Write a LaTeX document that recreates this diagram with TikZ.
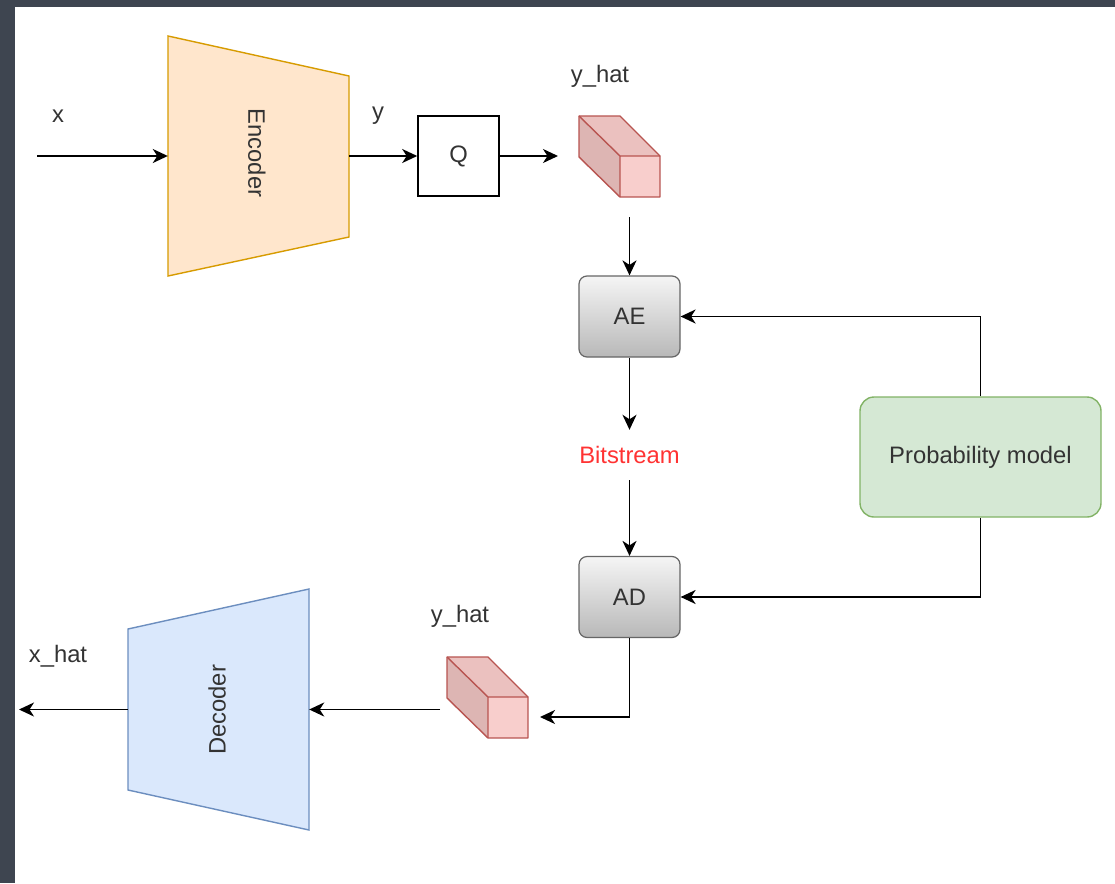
\documentclass[tikz,border=0pt]{standalone}
\usepackage{fontspec}
\setmainfont{Liberation Sans}
\usetikzlibrary{arrows.meta,calc}
\definecolor{bordc}{HTML}{3E4550}
\definecolor{txt}{HTML}{333333}
\definecolor{encfill}{HTML}{FFE6CC}
\definecolor{encdraw}{HTML}{D79B00}
\definecolor{decfill}{HTML}{DAE8FC}
\definecolor{decdraw}{HTML}{6C8EBF}
\definecolor{pmfill}{HTML}{D5E8D4}
\definecolor{pmdraw}{HTML}{82B366}
\definecolor{cubefront}{HTML}{F8CECC}
\definecolor{cubetop}{HTML}{EBC1BF}
\definecolor{cubeside}{HTML}{DDB5B3}
\definecolor{cubedraw}{HTML}{B85450}
\definecolor{boxtop}{HTML}{F5F5F5}
\definecolor{boxbot}{HTML}{B8B8B8}
\definecolor{boxdraw}{HTML}{666666}
\definecolor{bitred}{HTML}{FF3333}
\tikzset{
  every node/.style={text=txt,font=\fontsize{23.8pt}{28pt}\selectfont},
  arr/.style={line width=1.8pt,-{Stealth[length=15pt,width=14pt,inset=4.5pt]}},
  holder/.style={inner sep=0pt,draw=none},
  gradbox/.style={draw=boxdraw,line width=1.2pt,rounded corners=8pt,top color=boxtop,bottom color=boxbot,minimum width=101pt,minimum height=81pt,inner sep=0pt},
  qbox/.style={draw=black,line width=1.6pt,fill=white,minimum width=81pt,minimum height=80pt,inner sep=0pt},
  pmbox/.style={draw=pmdraw,line width=1.4pt,fill=pmfill,rounded corners=14pt,minimum width=241pt,minimum height=120pt,inner sep=0pt},
  lbl/.style={inner sep=0pt},
  pics/ycube/.style={code={
    \fill[cubetop] (0,0) -- (41,0) -- (81,40) -- (41,40) -- cycle;
    \fill[cubeside] (0,0) -- (41,40) -- (41,81) -- (0,41) -- cycle;
    \fill[cubefront] (41,40) rectangle (81,81);
    \draw[cubedraw,line width=1.4pt,line join=round] (0,0) -- (41,0) -- (81,40) -- (81,81) -- (41,81) -- (0,41) -- cycle;
    \draw[cubedraw,line width=1.4pt,line join=round] (0,0) -- (41,40) -- (81,40) (41,40) -- (41,81);
  }}
}
\begin{document}
\begin{tikzpicture}[x=1pt,y=-1pt]
\fill[bordc] (0,0) rectangle (1115,883);
\fill[white] (15,7) rectangle (1115,883);
\useasboundingbox (0,0) rectangle (1115,883);

% Encoder
\draw[draw=encdraw,fill=encfill,line width=1.4pt] (168,36) -- (349,76) -- (349,237) -- (168,276) -- cycle;
\node[holder,minimum width=181pt,minimum height=240pt] (enc) at (258.5,156) {};
\node[rotate=-90] (enctxt) at (257,153) {Encoder};

% Decoder
\draw[draw=decdraw,fill=decfill,line width=1.4pt] (128,629) -- (309,589) -- (309,830) -- (128,790) -- cycle;
\node[holder,minimum width=181pt,minimum height=241pt] (dec) at (218.5,709.5) {};
\node[rotate=90] (dectxt) at (217,710) {Decoder};

% Q
\node[qbox] (q) at (458.5,156) {Q};

% cubes
\pic at (579,116) {ycube};
\node[holder,minimum width=81pt,minimum height=81pt] (cube1) at (619.5,156.5) {};
\pic at (447,657) {ycube};
\node[holder,minimum width=81pt,minimum height=81pt] (cube2) at (487.5,697.5) {};

% AE, AD
\node[gradbox] (ae) at (629.5,316.5) {AE};
\node[gradbox] (ad) at (629.5,597) {AD};

% Bitstream
\node[holder,minimum height=50pt,text=bitred] (bits) at (629.5,455) {Bitstream};

% Probability model
\node[pmbox] (pm) at (980.5,457) {Probability model};

% labels
\node[lbl] (lx) at (58,116) {x};
\node[lbl] (ly) at (378,116) {y};
\node[lbl] (lyh1) at (600,76) {y\_hat};
\node[lbl] (lyh2) at (460,616) {y\_hat};
\node[lbl] (lxh) at (58,656) {x\_hat};

% free ends
\coordinate (xin) at (37,156);
\coordinate (c1in) at (558,156);
\coordinate (c1out) at (629.5,217);
\coordinate (c2in) at (540,717);
\coordinate (c2out) at (440,709.5);
\coordinate (xout) at (19,709.5);

% connectors
\draw[arr] (xin) -- (enc.west);
\draw[arr] (enc.east) -- (q.west);
\draw[arr] (q.east) -- (c1in);
\draw[arr] (c1out) -- (ae.north);
\draw[arr] (ae.south) -- (bits.north);
\draw[arr] (bits.south) -- (ad.north);
\draw[arr] (pm.north) |- (ae.east);
\draw[arr] (pm.south) |- (ad.east);
\draw[arr] (ad.south) |- (c2in);
\draw[arr] (c2out) -- (dec.east);
\draw[arr] (dec.west) -- (xout);
\end{tikzpicture}
\end{document}
